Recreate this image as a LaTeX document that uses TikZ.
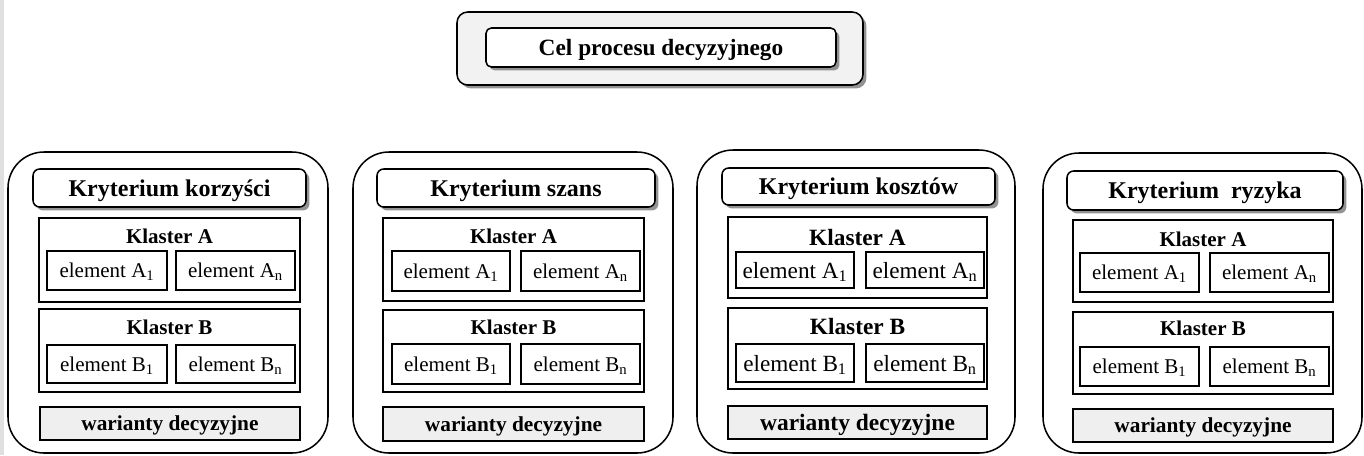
\documentclass[tikz,border=0pt]{standalone}
\usepackage{fontspec}
\setmainfont{Liberation Serif}
\usetikzlibrary{shadows}
\definecolor{panelgray}{HTML}{F2F2F2}
\definecolor{wargray}{HTML}{EFEFEF}
\definecolor{stripgray}{HTML}{E0E0E0}
\newcommand\myfs[1]{\fontsize{#1}{#1}\selectfont}
\newcommand\bx[7]{\node[#6, minimum width={(#4-#2)*0.75pt}, minimum height={(#5-#3)*0.75pt}] (#1) at ({(#2+#4)/2},{-(#3+#5)/2}) {#7};}
\tikzset{
  base/.style={inner sep=0pt, outer sep=0pt, text depth=0pt},
  shad/.style={drop shadow={shadow xshift=2.6pt, shadow yshift=-2.6pt, fill=gray, opacity=0.85}},
  panelbox/.style={base, draw, line width=1.15pt, rounded corners=27pt},
  topouter/.style={base, draw, line width=1.15pt, fill=panelgray, rounded corners=8pt, shad},
  topinner/.style={base, draw, line width=1.15pt, fill=white, rounded corners=4pt, shad, font=\bfseries\myfs{17.5}},
  crit/.style={base, draw, line width=1.15pt, fill=white, rounded corners=5pt, shad, font=\bfseries\myfs{18}},
  clus/.style={base, draw, line width=1.4pt},
  ttl/.style={inner sep=0pt, anchor=base, font=\bfseries\myfs{15.75}},
  ttlL/.style={inner sep=0pt, anchor=base, font=\bfseries\myfs{17.5}},
  elem/.style={base, draw, line width=1.4pt, font=\myfs{15.75}},
  elemL/.style={base, draw, line width=1.4pt, font=\myfs{17.4}},
  war/.style={base, draw, line width=1.4pt, fill=wargray, font=\bfseries\myfs{16}},
  warL/.style={base, draw, line width=1.4pt, fill=wargray, font=\bfseries\myfs{17.6}},
}
\begin{document}
\begin{tikzpicture}[x=0.75pt, y=0.75pt]
\useasboundingbox (0,0) rectangle (1364,-455);
\fill[stripgray] (0,0) rectangle (4,-455);
% top
\bx{topo}{457}{12}{863}{85}{topouter}{}
\bx{topi}{486}{28}{836}{67}{topinner}{Cel procesu decyzyjnego}
% panel 1
\bx{aout}{8}{152}{328}{453}{panelbox}{}
\bx{acrit}{33}{169}{306}{207}{crit}{Kryterium korzyści}
\bx{aka}{39}{218}{300}{302}{clus}{}
\node[ttl] (akat) at ({(39+300)/2},-243) {Klaster A};
\bx{aa1}{47}{251}{167}{290}{elem}{element A\textsubscript{1}}
\bx{aan}{176}{251}{295}{290}{elem}{element A\textsubscript{n}}
\bx{akb}{39}{309}{300}{392}{clus}{}
\node[ttl] (akbt) at ({(39+300)/2},-334) {Klaster B};
\bx{ab1}{47}{345}{167}{383}{elem}{element B\textsubscript{1}}
\bx{abn}{176}{345}{295}{383}{elem}{element B\textsubscript{n}}
\bx{awar}{40}{407}{300}{440}{war}{warianty decyzyjne}
% panel 2
\bx{bout}{353}{152}{673}{453}{panelbox}{}
\bx{bcrit}{377}{169}{655}{207}{crit}{Kryterium szans}
\bx{bka}{383}{218}{644}{301}{clus}{}
\node[ttl] (bkat) at ({(383+644)/2},-243) {Klaster A};
\bx{ba1}{392}{251}{510}{291}{elem}{element A\textsubscript{1}}
\bx{ban}{521}{251}{640}{291}{elem}{element A\textsubscript{n}}
\bx{bkb}{383}{310}{644}{392}{clus}{}
\node[ttl] (bkbt) at ({(383+644)/2},-334) {Klaster B};
\bx{bb1}{392}{344}{510}{384}{elem}{element B\textsubscript{1}}
\bx{bbn}{521}{344}{640}{384}{elem}{element B\textsubscript{n}}
\bx{bwar}{383}{407}{644}{441}{war}{warianty decyzyjne}
% panel 3
\bx{cout}{697}{150}{1015}{453}{panelbox}{}
\bx{ccrit}{722}{168}{995}{205}{crit}{Kryterium kosztów}
\bx{cka}{728}{217}{987}{298}{clus}{}
\node[ttlL] (ckat) at ({(728+987)/2},-245) {Klaster A};
\bx{ca1}{736}{252}{854}{288}{elemL}{element A\textsubscript{1}}
\bx{can}{866}{252}{984}{288}{elemL}{element A\textsubscript{n}}
\bx{ckb}{728}{308}{987}{389}{clus}{}
\node[ttlL] (ckbt) at ({(728+987)/2},-334) {Klaster B};
\bx{cb1}{736}{344}{854}{382}{elemL}{element B\textsubscript{1}}
\bx{cbn}{866}{344}{984}{382}{elemL}{element B\textsubscript{n}}
\bx{cwar}{728}{406}{987}{439}{warL}{warianty decyzyjne}
% panel 4
\bx{dout}{1043}{153}{1362}{453}{panelbox}{}
\bx{dcrit}{1067}{171}{1343}{210}{crit}{Kryterium~ ryzyka}
\bx{dka}{1073}{220}{1333}{302}{clus}{}
\node[ttl] (dkat) at ({(1073+1333)/2},-246) {Klaster A};
\bx{da1}{1080}{253}{1199}{292}{elem}{element A\textsubscript{1}}
\bx{dan}{1210}{253}{1329}{292}{elem}{element A\textsubscript{n}}
\bx{dkb}{1073}{312}{1333}{394}{clus}{}
\node[ttl] (dkbt) at ({(1073+1333)/2},-335) {Klaster B};
\bx{db1}{1080}{347}{1199}{386}{elem}{element B\textsubscript{1}}
\bx{dbn}{1210}{347}{1329}{386}{elem}{element B\textsubscript{n}}
\bx{dwar}{1073}{409}{1333}{442}{war}{warianty decyzyjne}
\end{tikzpicture}
\end{document}
